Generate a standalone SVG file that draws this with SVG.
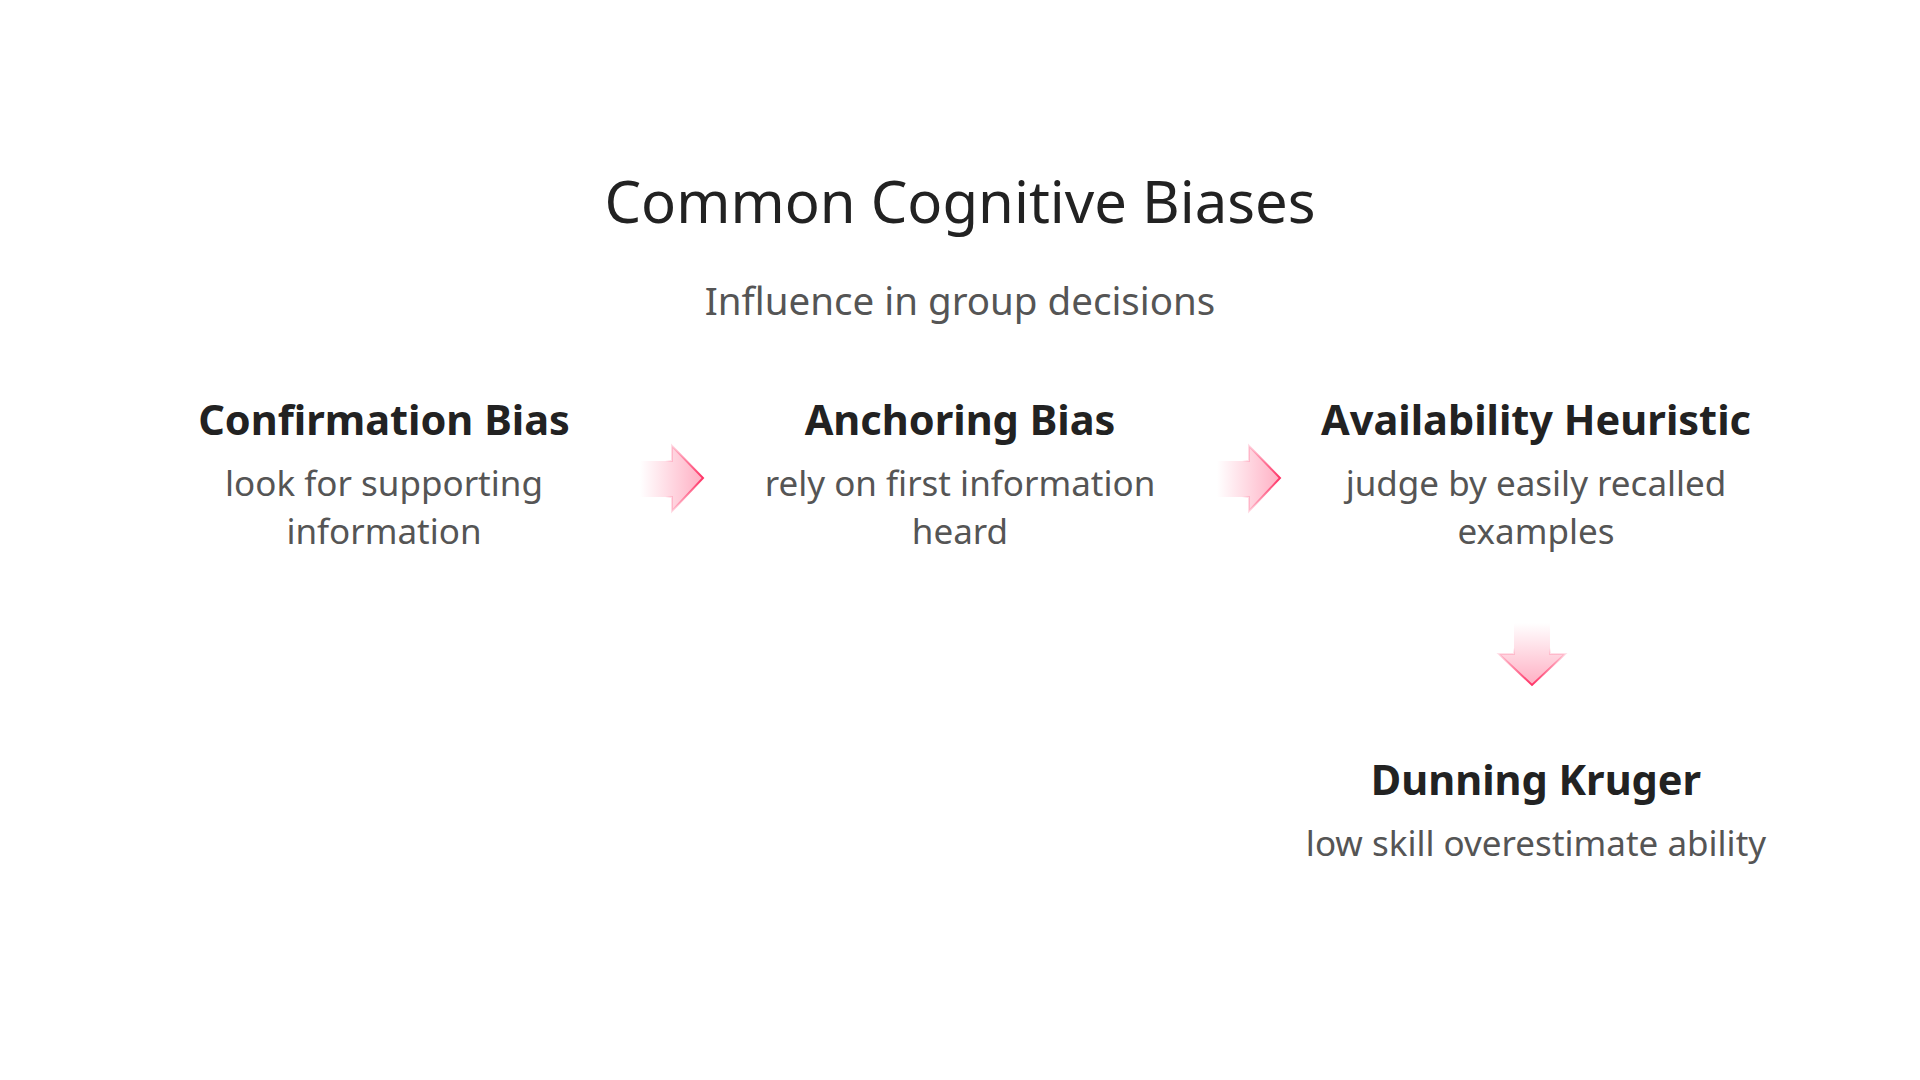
<svg xmlns="http://www.w3.org/2000/svg" width="1920" height="1080" viewBox="0 0 1920 1080">
<defs>
<style>
.title{font-family:"Noto Sans","Open Sans",sans-serif;font-size:58px;fill:#222;text-anchor:middle}
.sub{font-family:"Noto Sans","Open Sans",sans-serif;font-size:38.5px;fill:#555;text-anchor:middle}
.head{font-family:"Noto Sans","Open Sans",sans-serif;font-size:41.5px;font-weight:bold;fill:#222;text-anchor:middle}
.desc{font-family:"Noto Sans","Open Sans",sans-serif;font-size:35px;fill:#555;text-anchor:middle}
.arrow{stroke-width:2;stroke-linejoin:miter}
</style>
<linearGradient id="gr" x1="0" y1="0" x2="1" y2="0">
<stop offset="0" stop-color="#ff4d7a" stop-opacity="0"/>
<stop offset="1" stop-color="#ff4d7a" stop-opacity="0.45"/>
</linearGradient>
<linearGradient id="grs" x1="0" y1="0" x2="1" y2="0">
<stop offset="0.4" stop-color="#ff3366" stop-opacity="0"/>
<stop offset="1" stop-color="#ff3366" stop-opacity="1"/>
</linearGradient>
<linearGradient id="gd" x1="0" y1="0" x2="0" y2="1">
<stop offset="0" stop-color="#ff4d7a" stop-opacity="0"/>
<stop offset="1" stop-color="#ff4d7a" stop-opacity="0.45"/>
</linearGradient>
<linearGradient id="gds" x1="0" y1="0" x2="0" y2="1">
<stop offset="0.4" stop-color="#ff3366" stop-opacity="0"/>
<stop offset="1" stop-color="#ff3366" stop-opacity="1"/>
</linearGradient>
</defs>
<rect width="1920" height="1080" fill="#fff"/>
<g id="header">
<text class="title" x="960" y="223">Common Cognitive Biases</text>
<text class="sub" x="960" y="315">Influence in group decisions</text>
</g>
<g id="node-confirmation">
<text class="head" x="384" y="435">Confirmation Bias</text>
<text class="desc" x="384" y="496">look for supporting</text>
<text class="desc" x="384" y="544">information</text>
</g>
<g id="node-anchoring">
<text class="head" x="960" y="435">Anchoring Bias</text>
<text class="desc" x="960" y="496">rely on first information</text>
<text class="desc" x="960" y="544">heard</text>
</g>
<g id="node-availability">
<text class="head" x="1536" y="435">Availability Heuristic</text>
<text class="desc" x="1536" y="496">judge by easily recalled</text>
<text class="desc" x="1536" y="544">examples</text>
</g>
<g id="node-dunning">
<text class="head" x="1536" y="795">Dunning Kruger</text>
<text class="desc" x="1536" y="856">low skill overestimate ability</text>
</g>
<g id="connectors">
<path class="arrow" d="M640,461 H672 V446 L703,478 L672,511 V497 H640 Z" fill="url(#gr)" stroke="url(#grs)"/>
<path class="arrow" d="M1217,461 H1249 V446 L1280,478 L1249,511 V497 H1217 Z" fill="url(#gr)" stroke="url(#grs)"/>
<path class="arrow" d="M1514,623 V654 H1499 L1532,685 L1565,654 H1550 V623 Z" fill="url(#gd)" stroke="url(#gds)"/>
</g>
</svg>
